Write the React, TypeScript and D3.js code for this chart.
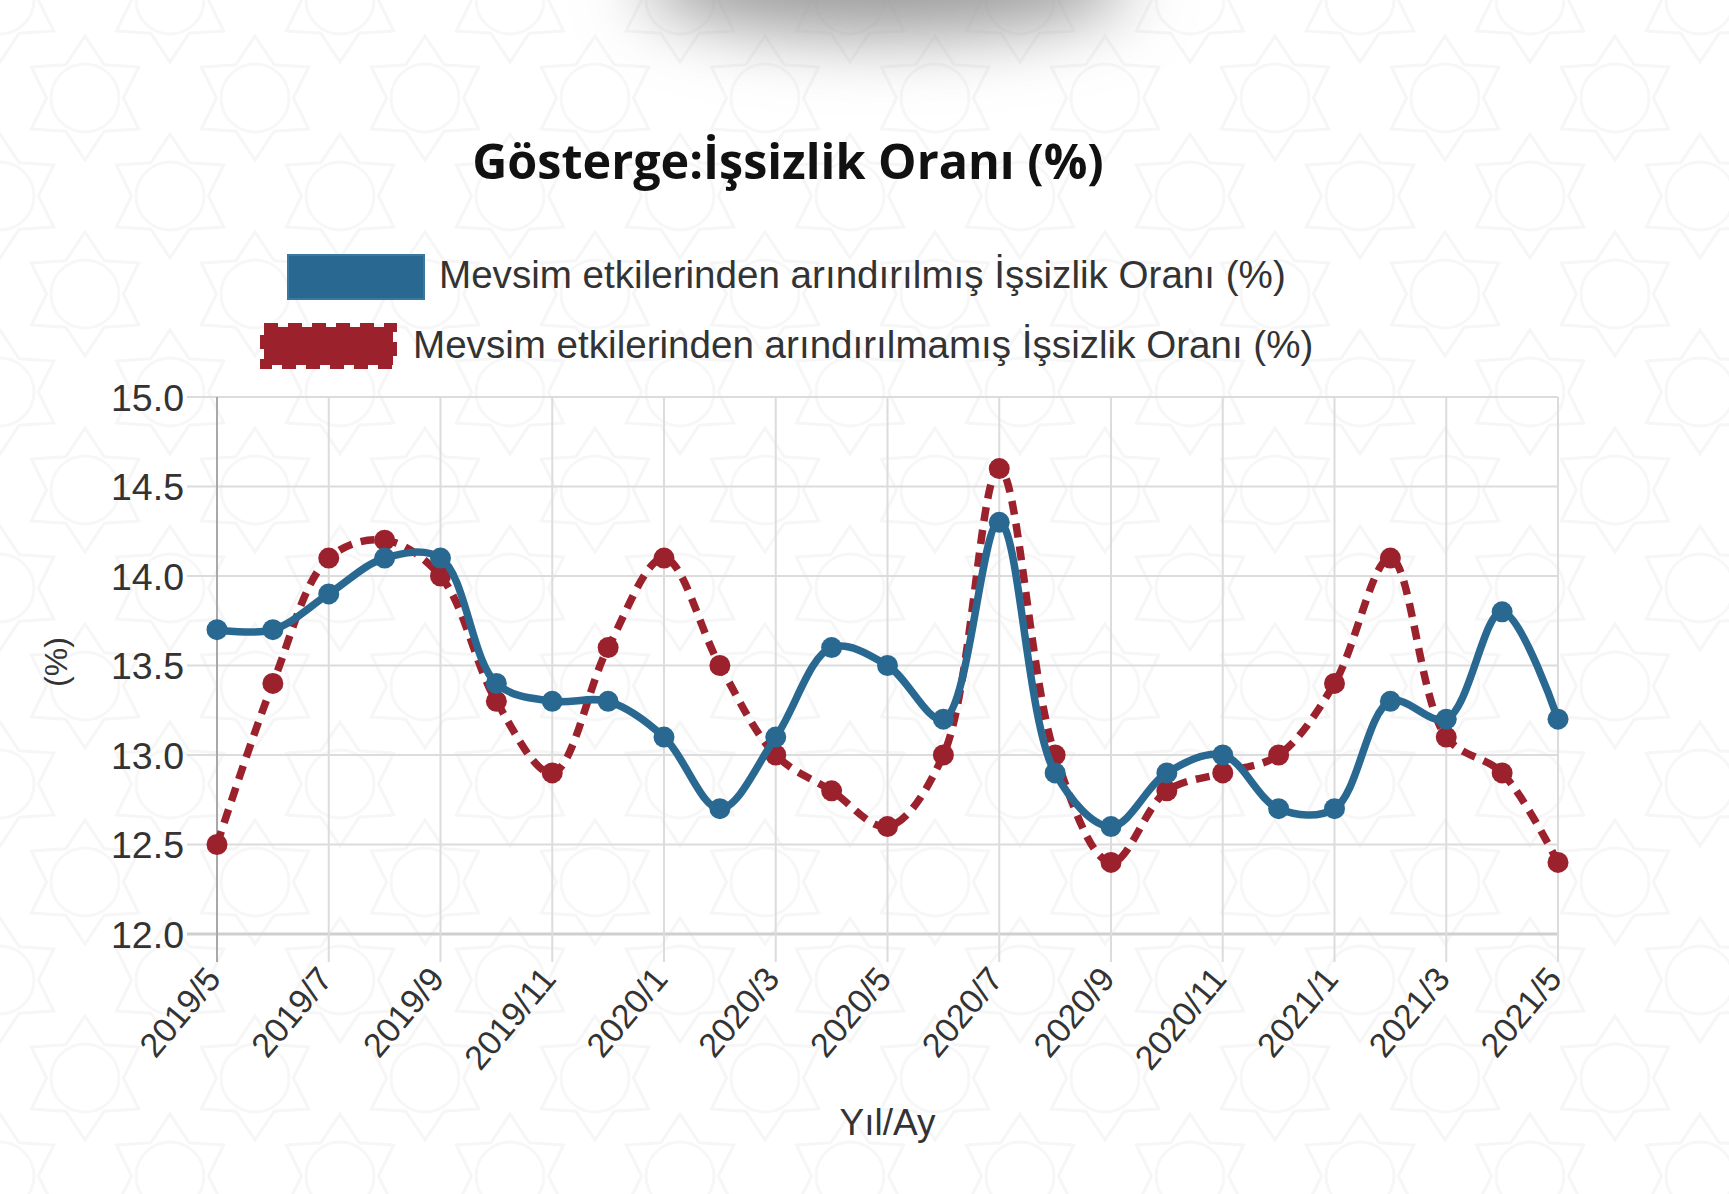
import React, { useRef, useEffect } from 'react';
import * as d3 from 'd3';

// Month labels (Yıl/Ay)
const months = [
  "2019/5", "2019/6", "2019/7", "2019/8", "2019/9", "2019/10", "2019/11", "2019/12",
  "2020/1", "2020/2", "2020/3", "2020/4", "2020/5", "2020/6", "2020/7", "2020/8",
  "2020/9", "2020/10", "2020/11", "2020/12", "2021/1", "2021/2", "2021/3", "2021/4", "2021/5"
];
const tickMonths = months.filter((m, i) => i % 2 === 0);

// Mevsim etkilerinden arındırılmış (seasonally adjusted)
const adjustedRate = [
  13.7, 13.7, 13.9, 14.1, 14.1, 13.4, 13.3, 13.3, 13.1, 12.7, 13.1, 13.6, 13.5,
  13.2, 14.3, 12.9, 12.6, 12.9, 13.0, 12.7, 12.7, 13.3, 13.2, 13.8, 13.2
];
// Mevsim etkilerinden arındırılmamış (not adjusted)
const unadjustedRate = [
  12.5, 13.4, 14.1, 14.2, 14.0, 13.3, 12.9, 13.6, 14.1, 13.5, 13.0, 12.8, 12.6,
  13.0, 14.6, 13.0, 12.4, 12.8, 12.9, 13.0, 13.4, 14.1, 13.1, 12.9, 12.4
];
const yTicks = [12, 12.5, 13, 13.5, 14, 14.5, 15];

const title = "Gösterge:İşsizlik Oranı (%)";
const seriesNames = [
  "Mevsim etkilerinden arındırılmış İşsizlik Oranı (%)",
  "Mevsim etkilerinden arındırılmamış İşsizlik Oranı (%)"
];

const BLUE = "#296991";
const RED = "#9b212d";
const FONT = "'Liberation Sans', Arial, sans-serif";

function UnemploymentChart({ width = 1729, height = 1194 }) {
  const svgRef = useRef(null);

  useEffect(() => {
    const svg = d3.select(svgRef.current);
    svg.selectAll("*").remove();
    svg.attr("width", width).attr("height", height);

    const defs = svg.append("defs");

    // soft shadow at the top of the page
    defs.append("filter")
      .attr("id", "topShadow")
      .attr("x", "-50%").attr("y", "-100%")
      .attr("width", "200%").attr("height", "300%")
      .append("feGaussianBlur")
      .attr("stdDeviation", 34);

    // faint geometric background pattern
    const pat = defs.append("pattern")
      .attr("id", "bgPattern")
      .attr("patternUnits", "userSpaceOnUse")
      .attr("width", 170)
      .attr("height", 196);
    const star = (cx, cy, r) => {
      const pts = d3.range(12).map(i => {
        const a = (Math.PI / 6) * i - Math.PI / 2;
        const rr = i % 2 === 0 ? r : r * 0.62;
        return [cx + rr * Math.cos(a), cy + rr * Math.sin(a)];
      });
      return "M" + pts.map(p => p.join(",")).join("L") + "Z";
    };
    [[0, 0], [170, 0], [85, 98], [0, 196], [170, 196]].forEach(([cx, cy]) => {
      pat.append("path")
        .attr("d", star(cx, cy, 62))
        .attr("fill", "none")
        .attr("stroke", "#f6f6f6")
        .attr("stroke-width", 3);
      pat.append("circle")
        .attr("cx", cx).attr("cy", cy).attr("r", 34)
        .attr("fill", "none")
        .attr("stroke", "#f7f7f7")
        .attr("stroke-width", 3);
    });

    svg.append("rect").attr("width", width).attr("height", height).attr("fill", "#ffffff");
    svg.append("rect").attr("width", width).attr("height", height).attr("fill", "url(#bgPattern)");

    svg.append("ellipse")
      .attr("cx", 885).attr("cy", -20)
      .attr("rx", 245).attr("ry", 55)
      .attr("fill", "#9a9a9a")
      .attr("filter", "url(#topShadow)");

    // scales
    const x = d3.scalePoint().domain(months).range([217, 1558]);
    const y = d3.scaleLinear().domain([12, 15]).range([934, 397]);

    const gridColor = "#dcdcdc";

    // horizontal grid + y ticks
    svg.append("g")
      .selectAll("line")
      .data(yTicks)
      .enter()
      .append("line")
      .attr("x1", 187)
      .attr("x2", x(months[months.length - 1]))
      .attr("y1", d => y(d))
      .attr("y2", d => y(d))
      .attr("stroke", d => d === 12 ? "#cfcfcf" : gridColor)
      .attr("stroke-width", d => d === 12 ? 3 : 2);

    // vertical grid + x ticks
    svg.append("g")
      .selectAll("line")
      .data(tickMonths)
      .enter()
      .append("line")
      .attr("x1", d => x(d))
      .attr("x2", d => x(d))
      .attr("y1", y(15))
      .attr("y2", y(12) + 28)
      .attr("stroke", (d, i) => i === 0 ? "#a8a8a8" : gridColor)
      .attr("stroke-width", 2);

    // y tick labels
    svg.append("g")
      .selectAll("text")
      .data(yTicks)
      .enter()
      .append("text")
      .attr("x", 184)
      .attr("y", d => y(d))
      .attr("dy", "0.36em")
      .attr("text-anchor", "end")
      .style("font-family", FONT)
      .style("font-size", "37.5px")
      .attr("fill", "#333")
      .text(d => d3.format(".1f")(d));

    // x tick labels
    svg.append("g")
      .selectAll("text")
      .data(tickMonths)
      .enter()
      .append("text")
      .attr("transform", d => `translate(${x(d) - 4},${y(12) + 38}) rotate(-50)`)
      .attr("dy", "0.36em")
      .attr("text-anchor", "end")
      .style("font-family", FONT)
      .style("font-size", "34px")
      .attr("fill", "#333")
      .text(d => d);

    // axis titles
    svg.append("text")
      .attr("transform", "rotate(-90)")
      .attr("x", -662)
      .attr("y", 55)
      .attr("dy", "0.36em")
      .attr("text-anchor", "middle")
      .style("font-family", FONT)
      .style("font-size", "32px")
      .attr("fill", "#333")
      .text("(%)");

    svg.append("text")
      .attr("x", (x(months[0]) + x(months[months.length - 1])) / 2)
      .attr("y", 1135)
      .attr("text-anchor", "middle")
      .style("font-family", FONT)
      .style("font-size", "37px")
      .attr("fill", "#333")
      .text("Yıl/Ay");

    // lines
    const curve = d3.curveCatmullRom.alpha(0.5);
    const line = d3.line()
      .x((d, i) => x(months[i]))
      .y(d => y(d))
      .curve(curve);

    // not adjusted (drawn underneath)
    svg.append("path")
      .datum(unadjustedRate)
      .attr("fill", "none")
      .attr("stroke", RED)
      .attr("stroke-width", 7.5)
      .attr("stroke-dasharray", "14,9")
      .attr("d", line);

    svg.append("g")
      .selectAll("circle")
      .data(unadjustedRate)
      .enter()
      .append("circle")
      .attr("cx", (d, i) => x(months[i]))
      .attr("cy", d => y(d))
      .attr("r", 10.5)
      .attr("fill", RED);

    // adjusted
    svg.append("path")
      .datum(adjustedRate)
      .attr("fill", "none")
      .attr("stroke", BLUE)
      .attr("stroke-width", 7.5)
      .attr("d", line);

    svg.append("g")
      .selectAll("circle")
      .data(adjustedRate)
      .enter()
      .append("circle")
      .attr("cx", (d, i) => x(months[i]))
      .attr("cy", d => y(d))
      .attr("r", 10.5)
      .attr("fill", BLUE);

    // title
    svg.append("text")
      .attr("x", 788)
      .attr("y", 179)
      .attr("text-anchor", "middle")
      .style("font-family", "'Open Sans', 'Noto Sans', sans-serif")
      .style("font-weight", "bold")
      .style("font-size", "48.5px")
      .attr("fill", "#111")
      .text(title);

    // legend
    const legend = svg.append("g");

    legend.append("rect")
      .attr("x", 288).attr("y", 255)
      .attr("width", 136).attr("height", 44)
      .attr("fill", BLUE)
      .attr("stroke", "#3a78a0")
      .attr("stroke-width", 2);

    legend.append("text")
      .attr("x", 439)
      .attr("y", 288)
      .style("font-family", FONT)
      .style("font-size", "38.6px")
      .attr("fill", "#333")
      .text(seriesNames[0]);

    legend.append("rect")
      .attr("x", 264).attr("y", 327)
      .attr("width", 129).attr("height", 38)
      .attr("fill", RED)
      .attr("stroke", RED)
      .attr("stroke-width", 8)
      .attr("stroke-dasharray", "14,10");

    legend.append("text")
      .attr("x", 413)
      .attr("y", 358)
      .style("font-family", FONT)
      .style("font-size", "38.6px")
      .attr("fill", "#333")
      .text(seriesNames[1]);
  }, [width, height]);

  return (
    <svg ref={svgRef} style={{ position: "absolute", left: 0, top: 0, display: "block" }}></svg>
  );
}

export default function App() {
  return <UnemploymentChart />;
}
